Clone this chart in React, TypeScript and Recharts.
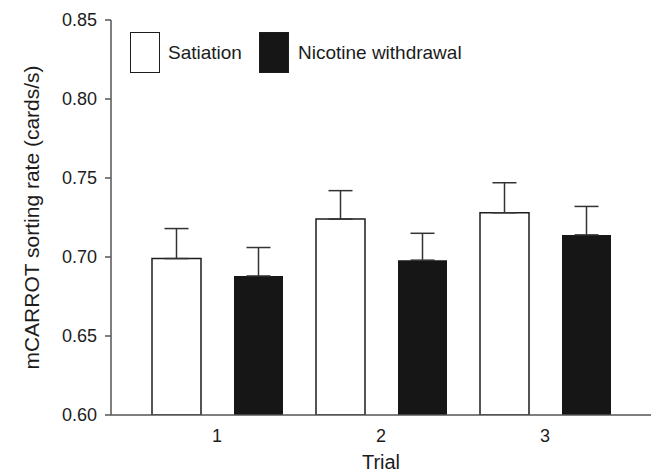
import { BarChart, Bar, XAxis, YAxis, ErrorBar, Legend, Label } from 'recharts'

const trials = ['1', '2', '3']
const satiation = [0.699, 0.724, 0.728]
const satiationSE = [0.019, 0.018, 0.019]
const withdrawal = [0.688, 0.698, 0.714]
const withdrawalSE = [0.018, 0.017, 0.018]
const yTicks = [0.6, 0.65, 0.7, 0.75, 0.8, 0.85]

const seriesNames = ['Satiation', 'Nicotine withdrawal']

const data = trials.map((t, i) => ({
  trial: t,
  sat: satiation[i],
  satErr: [0, satiationSE[i]],
  nic: withdrawal[i],
  nicErr: [0, withdrawalSE[i]],
}))

const FONT = '"Liberation Sans", Arial, sans-serif'
const INK = '#1c1c1c'
const AXIS = '#555'

function LegendBox() {
  const swatch = (fill: string) => ({
    display: 'inline-block', width: 30, height: 41, boxSizing: 'border-box' as const,
    background: fill, border: `1.5px solid ${INK}`,
  })
  return (
    <div style={{ display: 'flex', alignItems: 'center', fontFamily: FONT, fontSize: 19, color: INK }}>
      <span style={swatch('#fff')} />
      <span style={{ marginLeft: 8, marginRight: 17 }}>{seriesNames[0]}</span>
      <span style={swatch('#161616')} />
      <span style={{ marginLeft: 9 }}>{seriesNames[1]}</span>
    </div>
  )
}

export default function App() {
  return (
    <div style={{ position: 'fixed', top: 0, left: 0, width: 651, height: 473, background: '#fff' }}>
      <BarChart width={651} height={473} data={data} margin={{ top: 20, right: 0, bottom: 28, left: 0 }}
        barSize={49} barGap={33}>
        <XAxis dataKey="trial" height={30} padding={{ left: 24, right: 24 }} tickLine={false} tickSize={0} tickMargin={14}
          axisLine={{ stroke: AXIS, strokeWidth: 1.5 }}
          tick={{ fontSize: 18, fontFamily: FONT, fill: INK }}>
          <Label content={({ viewBox }: any) => (
            <text x={viewBox.x + viewBox.width / 2} y={469} textAnchor="middle"
              style={{ fontSize: 20, fontFamily: FONT, fill: INK }}>Trial</text>
          )} />
        </XAxis>
        <YAxis width={111} domain={[0.6, 0.85]} ticks={yTicks} allowDataOverflow tickSize={6} tickMargin={8}
          tickFormatter={(v: number) => v.toFixed(2)}
          axisLine={{ stroke: AXIS, strokeWidth: 1.5 }} tickLine={{ stroke: AXIS, strokeWidth: 1.5 }}
          tick={{ fontSize: 18, fontFamily: FONT, fill: INK }}>
          <Label content={({ viewBox }: any) => {
            const cy = viewBox.y + viewBox.height / 2
            return (
              <text x={31} y={cy} transform={`rotate(-90 31 ${cy})`} textAnchor="middle" dominantBaseline="central"
                style={{ fontSize: 21, fontFamily: FONT, fill: INK }}>mCARROT sorting rate (cards/s)</text>
            )
          }} />
        </YAxis>
        <Legend layout="horizontal" verticalAlign="middle" align="center" content={() => <LegendBox />}
          wrapperStyle={{ top: 32, left: 130, width: 400, height: 41 }} />
        <Bar dataKey="sat" name={seriesNames[0]} fill="#fff" stroke={INK} strokeWidth={1.5} isAnimationActive={false}>
          <ErrorBar dataKey="satErr" width={12} stroke="#333" strokeWidth={1.5} />
        </Bar>
        <Bar dataKey="nic" name={seriesNames[1]} fill="#161616" isAnimationActive={false}>
          <ErrorBar dataKey="nicErr" width={12} stroke="#333" strokeWidth={1.5} />
        </Bar>
      </BarChart>
    </div>
  )
}
